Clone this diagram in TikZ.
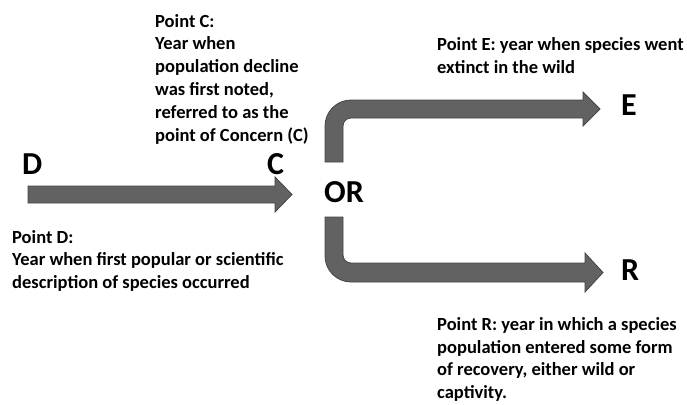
\documentclass[tikz,border=0pt]{standalone}
\usepackage{fontspec}
\setmainfont{Carlito}
\definecolor{arrowgray}{HTML}{626262}
\definecolor{arrowedge}{HTML}{444444}
\begin{document}
\begin{tikzpicture}[x=1pt, y=-1pt,
    arrowbody/.style={fill=arrowgray, draw=arrowedge, line width=0.8pt},
    pointlbl/.style={font=\bfseries\fontsize{32}{34}\selectfont, inner sep=0pt, anchor=base west},
    note/.style={font=\bfseries\fontsize{18.5}{22.5}\selectfont, align=left, inner sep=0pt, anchor=base west}]
    \useasboundingbox (0,0) rectangle (687,404);

    % the three block arrows
    \draw[arrowbody] (28,186) -- (275,186) -- (275,177) -- (292,194.5) -- (275,212) -- (275,203) -- (28,203) -- cycle;
    \draw[arrowbody] (325,162) [rounded corners=26pt] -- (325,100) [sharp corners] -- (583,100) -- (583,92)
        -- (600,109) -- (583,126) -- (583,118) [rounded corners=8pt] -- (343,118) [sharp corners] -- (343,162) -- cycle;
    \draw[arrowbody] (325,217) [rounded corners=26pt] -- (325,282) [sharp corners] -- (585,282) -- (585,292)
        -- (603,272.5) -- (585,253) -- (585,263) [rounded corners=8pt] -- (343,263) [sharp corners] -- (343,217) -- cycle;

    % point letters
    \node[pointlbl] (D) at (22,174) {D};
    \node[pointlbl] (C) at (267,174) {C};
    \node[pointlbl] (OR) at (324,202) {OR};
    \node[pointlbl] (E) at (621,115) {E};
    \node[pointlbl] (R) at (621,280) {R};

    % notes (anchored at the baseline of their last line)
    \node[note, font=\bfseries\fontsize{18.5}{22.8}\selectfont] (noteC) at (155,141) {Point C:\\Year when\\population decline\\was first noted,\\referred to as the\\point of Concern (C)};
    \node[note] (noteE) at (437,73) {Point E: year when species went\\extinct in the wild};
    \node[note] (noteD) at (12,288) {Point D:\\Year when first popular or scientific\\description of species occurred};
    \node[note] (noteR) at (437,398) {Point R: year in which a species\\population entered some form\\of recovery, either wild or\\captivity.};
\end{tikzpicture}
\end{document}
